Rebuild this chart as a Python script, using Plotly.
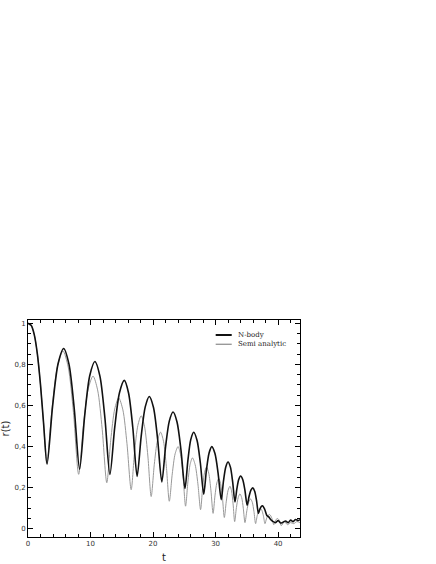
import plotly.graph_objects as go

# N-body run (extrema plus two points on every flank)
t_nbody = [0, 0.5, 1.0, 1.5, 2.0, 2.5, 3.05,
           3.93, 4.82, 5.7, 6.55, 7.4, 8.25,
           9.07, 9.88, 10.7, 11.5, 12.3, 13.1,
           13.87, 14.63, 15.4, 16.08, 16.77, 17.45,
           18.1, 18.75, 19.4, 20.07, 20.73, 21.4,
           22.0, 22.6, 23.2, 23.83, 24.47, 25.1,
           25.57, 26.03, 26.5, 27.03, 27.57, 28.1,
           28.53, 28.97, 29.4, 29.9, 30.4, 30.9,
           31.27, 31.63, 32.0, 32.37, 32.73, 33.1,
           33.4, 33.7, 34.0, 34.35, 34.7, 35.05,
           35.35, 35.65, 35.95, 36.25, 36.55, 36.85,
           37.07, 37.28, 37.5, 37.85, 38.2, 38.5, 38.8, 39.2, 39.6,
           40.0, 40.4, 40.8, 41.2, 41.6, 42.0, 42.4, 42.8, 43.2, 43.5]
r_nbody = [1.0, 0.99, 0.945, 0.85, 0.70, 0.51, 0.315,
           0.596, 0.804, 0.877, 0.801, 0.583, 0.29,
           0.552, 0.746, 0.814, 0.743, 0.539, 0.264,
           0.493, 0.662, 0.722, 0.661, 0.489, 0.255,
           0.45, 0.593, 0.644, 0.59, 0.436, 0.228,
           0.398, 0.524, 0.568, 0.52, 0.382, 0.196,
           0.333, 0.434, 0.47, 0.431, 0.319, 0.168,
           0.284, 0.37, 0.40, 0.366, 0.271, 0.142,
           0.234, 0.301, 0.325, 0.30, 0.228, 0.13,
           0.194, 0.24, 0.257, 0.239, 0.186, 0.115,
           0.157, 0.188, 0.199, 0.183, 0.137, 0.075,
           0.094, 0.107, 0.112, 0.095, 0.065, 0.058, 0.045, 0.035, 0.03,
           0.04, 0.028, 0.032, 0.038, 0.03, 0.042, 0.035, 0.045, 0.04, 0.045]

# semi analytic model
t_semi = [0, 0.5, 1.0, 1.5, 2.0, 2.5, 3.0,
          3.87, 4.73, 5.6, 6.43, 7.27, 8.1,
          8.87, 9.63, 10.4, 11.13, 11.87, 12.6,
          13.23, 13.87, 14.5, 15.17, 15.83, 16.5,
          17.03, 17.57, 18.1, 18.63, 19.17, 19.7,
          20.2, 20.7, 21.2, 21.67, 22.13, 22.6,
          23.07, 23.53, 24.0, 24.4, 24.8, 25.2,
          25.57, 25.93, 26.3, 26.73, 27.17, 27.6,
          27.92, 28.23, 28.55, 28.9, 29.25, 29.6,
          29.9, 30.2, 30.5, 30.8, 31.1, 31.4,
          31.7, 32.0, 32.3, 32.55, 32.8, 33.05,
          33.33, 33.62, 33.9, 34.17, 34.43, 34.7,
          35.0, 35.3, 35.6, 35.87, 36.13, 36.4,
          36.65, 36.9, 37.15, 37.4, 37.65, 37.9,
          38.13, 38.37, 38.6, 38.83, 39.07, 39.3,
          39.5, 39.7, 39.9, 40.1, 40.3, 40.5,
          41.0, 41.5, 42.0, 42.5, 43.0, 43.5]
r_semi = [1.0, 0.99, 0.945, 0.85, 0.70, 0.51, 0.318,
          0.592, 0.794, 0.865, 0.787, 0.565, 0.265,
          0.504, 0.681, 0.743, 0.676, 0.484, 0.224,
          0.431, 0.583, 0.637, 0.579, 0.414, 0.19,
          0.37, 0.503, 0.55, 0.499, 0.354, 0.157,
          0.314, 0.429, 0.47, 0.426, 0.302, 0.134,
          0.267, 0.365, 0.40, 0.362, 0.255, 0.11,
          0.228, 0.314, 0.345, 0.312, 0.219, 0.093,
          0.197, 0.273, 0.30, 0.271, 0.188, 0.075,
          0.16, 0.223, 0.245, 0.22, 0.15, 0.055,
          0.131, 0.187, 0.207, 0.185, 0.121, 0.035,
          0.103, 0.152, 0.17, 0.152, 0.10, 0.03,
          0.088, 0.13, 0.145, 0.129, 0.085, 0.025,
          0.063, 0.09, 0.10, 0.09, 0.063, 0.025,
          0.048, 0.064, 0.07, 0.063, 0.045, 0.02,
          0.035, 0.046, 0.05, 0.045, 0.033, 0.015,
          0.035, 0.02, 0.03, 0.025, 0.035, 0.03]

series_names = ["N-body", "Semi analytic"]
series_colors = ["#111111", "#999999"]
series_widths = [1.6, 1.0]

fig = go.Figure()
# gray one first so the black curve sits on top
for t, r, name, col, w in list(zip([t_nbody, t_semi], [r_nbody, r_semi],
                                   series_names, series_colors, series_widths))[::-1]:
    fig.add_trace(go.Scatter(x=t, y=r, mode="lines", name=name,
                             line=dict(color=col, width=w, shape="spline", smoothing=0.8)))

axis_common = dict(
    showline=True, linecolor="black", linewidth=1, mirror="allticks",
    ticks="inside", ticklen=5, tickwidth=1, tickcolor="black",
    showgrid=False, zeroline=False, automargin=False,
    tickfont=dict(family="DejaVu Sans", size=7, color="#333333"),
    title_font=dict(family="DejaVu Sans", size=10, color="#222222"),
)

fig.update_xaxes(range=[0, 43.5], dtick=10, tick0=0, title_text="t",
                 title_standoff=6,
                 minor=dict(dtick=2, ticks="inside", ticklen=3, tickcolor="black"),
                 **axis_common)
fig.update_yaxes(range=[-0.04, 1.016], dtick=0.2, tick0=0, title_text="r(t)",
                 title_standoff=2,
                 minor=dict(dtick=0.05, ticks="inside", ticklen=3, tickcolor="black"),
                 **axis_common)

# hand-made legend, small and tight like the original
leg_y = [0.931, 0.888]
for name, col, w, yy in zip(series_names, series_colors, series_widths, leg_y):
    fig.add_shape(type="line", xref="paper", yref="paper",
                  x0=0.690, x1=0.749, y0=yy, y1=yy,
                  line=dict(color=col, width=w + 0.4))
    fig.add_annotation(xref="paper", yref="paper", x=0.764, y=yy, text=name,
                       showarrow=False, xanchor="left", yanchor="middle",
                       font=dict(family="DejaVu Serif", size=7, color="#222222"))

fig.update_layout(
    width=436, height=564,
    margin=dict(l=28, r=136, t=320, b=27),
    paper_bgcolor="white", plot_bgcolor="white",
    showlegend=False,
    separators=",.",
)

# drop the default 8px page margin so the figure sits at the window corner
fig.write_html("out.html", config={"displayModeBar": False},
               post_script="document.body.style.margin = '0';")
